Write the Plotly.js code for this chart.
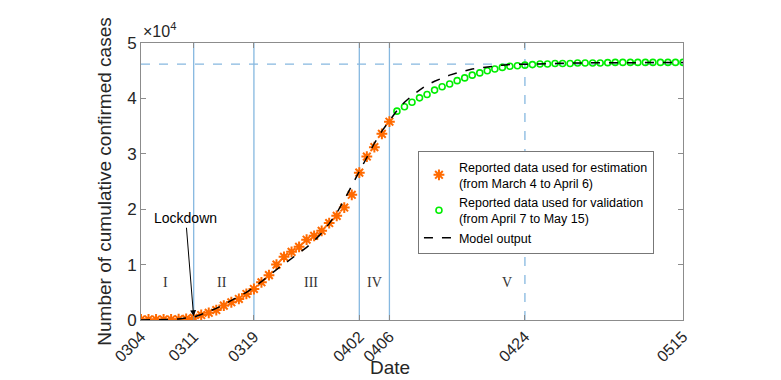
<!DOCTYPE html>
<html>
<head>
<meta charset="utf-8">
<script src="https://cdn.plot.ly/plotly-3.0.1.min.js"></script>
<style>
  html, body { margin: 0; padding: 0; background: #fff; }
  #chart { width: 781px; height: 380px; }
</style>
</head>
<body>
<div id="chart"></div>
<script>
// values are in units of 10^4 cases, x is day index from March 4
const estDays = [0,1,2,3,4,5,6,7,8,9,10,11,12,13,14,15,16,17,18,19,20,21,22,23,24,25,26,27,28,29,30,31,32,33];
const estCases = [0.01,0.01,0.01,0.01,0.01,0.015,0.02,0.04,0.09,0.13,0.18,0.26,0.32,0.38,0.47,0.56,0.68,0.81,1.0,1.14,1.23,1.32,1.45,1.52,1.61,1.75,1.88,2.03,2.26,2.66,2.95,3.12,3.36,3.58];

const valDays = [34,35,36,37,38,39,40,41,42,43,44,45,46,47,48,49,50,51,52,53,54,55,56,57,58,59,60,61,62,63,64,65,66,67,68,69,70,71,72];
const valCases = [3.77,3.85,3.93,4.01,4.07,4.15,4.21,4.26,4.32,4.37,4.42,4.46,4.5,4.53,4.56,4.58,4.59,4.6,4.61,4.62,4.62,4.63,4.63,4.63,4.64,4.64,4.64,4.64,4.645,4.65,4.65,4.65,4.65,4.65,4.65,4.65,4.65,4.65,4.65];

const modelDays = [0,1,2,3,4,5,6,7,8,9,10,11,12,13,14,15,16,17,18,19,20,21,22,23,24,25,26,27,28,29,30,31,32,33,34,35,36,37,38,39,40,41,42,43,44,45,46,47,48,49,50,51,52,54,56,58,60,64,68,72];
const modelCases = [0.0,0.0,0.0,0.01,0.01,0.02,0.03,0.05,0.1,0.15,0.21,0.28,0.35,0.42,0.5,0.59,0.69,0.8,0.91,1.01,1.1,1.2,1.31,1.43,1.57,1.74,1.93,2.17,2.43,2.69,2.95,3.19,3.41,3.6,3.78,3.93,4.05,4.15,4.24,4.31,4.37,4.42,4.46,4.5,4.53,4.55,4.57,4.59,4.6,4.61,4.615,4.62,4.625,4.63,4.635,4.64,4.64,4.645,4.65,4.65];

const tickDays = [0,7,15,29,33,51,72];
const tickText = ["0304","0311","0319","0402","0406","0424","0515"];

const phaseLines = [7,15,29,33];   // solid
const phaseDashed = 51;
const plateau = 4.62;

const phaseLabels = ["I","II","III","IV","V"];
const phaseLabelX = [3.2,10.8,22.6,31,48.6];
const phaseLabelY = 0.67;

const lineBlue = "#86b8e0";
const axisGray = "#8c8c8c";
const sans = "Liberation Sans, Arial, sans-serif";

const traces = [
    {
        x: estDays, y: estCases,
        mode: "markers", type: "scatter",
        name: "Reported data used for estimation<br>(from March 4 to April 6)",
        marker: { symbol: "asterisk-open", size: 9, color: "#ff6a00", line: { color: "#ff6a00", width: 2 } }
    },
    {
        x: valDays, y: valCases,
        mode: "markers", type: "scatter",
        name: "Reported data used for validation<br>(from April 7 to May 15)",
        marker: { symbol: "circle-open", size: 6, color: "#00ee00", line: { color: "#00ee00", width: 1.6 } }
    },
    {
        x: modelDays, y: modelCases,
        mode: "lines", type: "scatter",
        name: "Model output",
        line: { color: "#000", width: 1.5, dash: "dash" }
    }
];

const shapes = phaseLines.map(d => ({
    type: "line", xref: "x", yref: "paper", x0: d, x1: d, y0: 0, y1: 1,
    line: { color: lineBlue, width: 1.3 }, layer: "below"
}));
shapes.push({
    type: "line", xref: "x", yref: "paper", x0: phaseDashed, x1: phaseDashed, y0: 0, y1: 1,
    line: { color: lineBlue, width: 1.3, dash: "dash" }, layer: "below"
});
shapes.push({
    type: "line", xref: "paper", yref: "y", x0: 0, x1: 1, y0: plateau, y1: plateau,
    line: { color: lineBlue, width: 1.3, dash: "dash" }, layer: "below"
});

const annotations = phaseLabels.map((t, i) => ({
    x: phaseLabelX[i], y: phaseLabelY, xref: "x", yref: "y",
    text: t, showarrow: false,
    font: { family: "Liberation Serif, Times New Roman, serif", size: 14, color: "#333" }
}));
annotations.push({
    x: 7, y: 0.05, xref: "x", yref: "y",
    text: "Lockdown", showarrow: true,
    ax: -8, ay: -99,
    arrowhead: 2, arrowsize: 1.2, arrowwidth: 1, arrowcolor: "#000", standoff: 1,
    font: { family: sans, size: 14, color: "#000" }
});
annotations.push({
    x: 0, y: 1, xref: "paper", yref: "paper", xanchor: "left", yanchor: "bottom",
    yshift: 1, text: "×10<sup>4</sup>", showarrow: false,
    font: { family: sans, size: 16, color: "#262626" }
});
annotations.push({
    x: 0.46, y: 0, xref: "paper", yref: "paper", yanchor: "top", yshift: -35,
    text: "Date", showarrow: false,
    font: { family: sans, size: 19, color: "#262626" }
});

const layout = {
    width: 781, height: 380,
    margin: { l: 141, r: 98, t: 43, b: 60 },
    paper_bgcolor: "#fff", plot_bgcolor: "#fff",
    font: { family: sans, color: "#262626" },
    showlegend: true,
    legend: {
        x: 0.511, y: 0.61, xanchor: "left", yanchor: "top",
        bordercolor: "#777", borderwidth: 1, bgcolor: "#fff",
        font: { size: 12.5, color: "#000" },
        tracegroupgap: 0, itemwidth: 30
    },
    xaxis: {
        range: [0, 72],
        tickvals: tickDays, ticktext: tickText, tickangle: -45,
        ticks: "inside", ticklen: 5, tickcolor: axisGray,
        showline: true, linecolor: axisGray, linewidth: 1, mirror: "ticks",
        showgrid: false, zeroline: false,
        tickfont: { size: 16, color: "#262626" }
    },
    yaxis: {
        range: [0, 5],
        tickvals: [0,1,2,3,4,5],
        ticks: "inside", ticklen: 5, tickcolor: axisGray,
        showline: true, linecolor: axisGray, linewidth: 1, mirror: "ticks",
        showgrid: false, zeroline: false,
        tickfont: { size: 17, color: "#262626" },
        title: { text: "Number of cumulative confirmed cases", font: { size: 19, color: "#262626" }, standoff: 10 }
    },
    shapes: shapes,
    annotations: annotations
};

Plotly.newPlot("chart", traces, layout, { displayModeBar: false, staticPlot: true });
</script>
</body>
</html>
